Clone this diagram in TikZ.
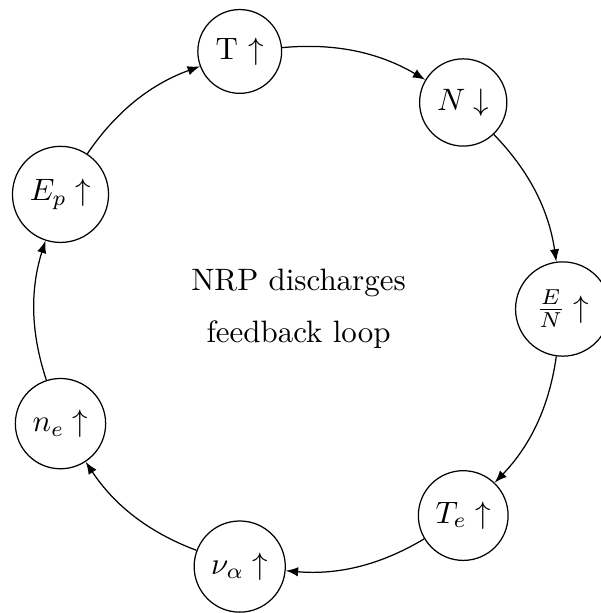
\documentclass[tikz,border=0pt]{standalone}
\begin{document}
\begin{tikzpicture}[
  state/.style={draw, circle, inner sep=3.33pt},
  link/.style={-latex, bend left=18, looseness=0.93},
  caption/.style={anchor=base, inner sep=0pt},
]
\useasboundingbox (-96.45pt,-98.22pt) rectangle (97.42pt,99.84pt);
\def\R{3cm}
\node[state] (EN) at (0:\R) {$\frac{E}{N}\uparrow$};
\node[state] (N) at ({360/7}:\R) {$N\downarrow$};
\node[state] (T) at ({2*360/7}:\R) {T $\uparrow$};
\node[state] (Ep) at ({3*360/7}:\R) {$E_p\uparrow$};
\node[state] (ne) at ({4*360/7}:\R) {$n_e\uparrow$};
\node[state] (nu) at ({5*360/7}:\R) {$\nu_\alpha\uparrow$};
\node[state] (Te) at ({6*360/7}:\R) {$T_e\uparrow$};
\node[caption] (lbl1) at (0,5.9pt) {NRP discharges};
\node[caption] (lbl2) at (0,-10.8pt) {feedback loop};
\draw[link] (T) to (N);
\draw[link] (N) to (EN);
\draw[link] (EN) to (Te);
\draw[link] (Te) to (nu);
\draw[link] (nu) to (ne);
\draw[link] (ne) to (Ep);
\draw[link] (Ep) to (T);
\end{tikzpicture}
\end{document}
